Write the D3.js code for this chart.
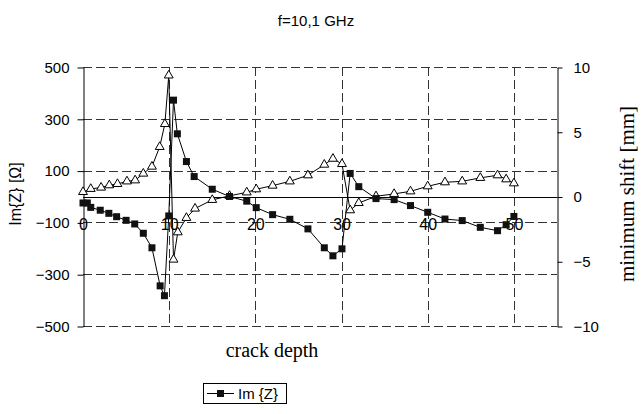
<!DOCTYPE html>
<html><head><meta charset="utf-8">
<script src="https://cdn.jsdelivr.net/npm/d3@7"></script>
<style>
body{margin:0;background:#fff;}
svg{display:block;font-family:"Liberation Sans",Arial,sans-serif;}
</style></head>
<body><svg id="c" width="644" height="414"></svg>
<script>
const title = "f=10,1 GHz";
const xLabel = "crack depth";
const yLeftLabel = "Im{Z} [Ω]";
const yRightLabel = "minimum shift [mm]";
const legendLabel = "Im {Z}";
const xTicks = [0,10,20,30,40,50];
const yLeftTicks = [500,300,100,-100,-300,-500];
const yRightTicks = [10,5,0,-5,-10];

const imX = [0,0.5,0.9,2,3,3.9,5,6,7,8,8.95,9.45,9.95,10.5,10.95,12,12.9,15,17,19,20.1,22,24,26.1,28,29,30.05,31,32,34,36.1,38,40,42,44,46.1,48.1,49.1,50];
const imY = [-25,-25,-42,-53,-65,-78,-92,-106,-142,-198,-345,-383,-75,372,242,135,77,28,0,-18,-43,-70,-88,-125,-198,-229,-202,89,38,-8,-12,-35,-61,-87,-93,-119,-132,-109,-77];
const shiftX = [0,0.9,2.1,3.05,4,5.1,6.05,7,8,8.9,9.5,9.95,10.5,11,12,13,15,17,19,20.1,22,24,26.1,28,29,30.05,31,32,34,36.1,38,40,42,44,46.1,48.1,49.1,50];
const shiftY = [0.35,0.59,0.69,0.87,0.97,1.17,1.25,1.77,2.31,3.83,5.6,9.35,-4.87,-2.76,-1.65,-0.93,-0.26,0.05,0.32,0.56,0.84,1.17,1.64,2.46,2.92,2.51,-1.06,-0.5,0.02,0.2,0.4,0.79,1.1,1.17,1.44,1.64,1.33,1.02];

const svg = d3.select("#c");
const L = 83, R = 557, T = 67, B = 326;
const x = d3.scaleLinear().domain([0,55]).range([L,R]);
const yl = d3.scaleLinear().domain([-500,500]).range([B,T]);
const yr = d3.scaleLinear().domain([-10,10]).range([B,T]);

// gridlines
const grid = svg.append("g").attr("stroke","#333").attr("stroke-width",1).attr("stroke-dasharray","9,4").attr("fill","none");
grid.selectAll("line.h").data(yLeftTicks).join("line")
  .attr("x1",L).attr("x2",R).attr("y1",d=>Math.round(yl(d))+0.5).attr("y2",d=>Math.round(yl(d))+0.5);
grid.selectAll("line.v").data(xTicks.filter(d=>d>0)).join("line")
  .attr("y1",T).attr("y2",B).attr("x1",d=>Math.round(x(d))+0.5).attr("x2",d=>Math.round(x(d))+0.5);

// zero line
svg.append("line").attr("x1",L).attr("x2",R).attr("y1",Math.round(yl(0))+0.5).attr("y2",Math.round(yl(0))+0.5)
  .attr("stroke","#000").attr("stroke-width",1);

// left axis
const ga = svg.append("g").attr("transform",`translate(${L+0.5},0.5)`)
  .call(d3.axisLeft(yl).tickValues(yLeftTicks).tickSize(6).tickSizeOuter(0).tickPadding(8).tickFormat(d3.format("d")));
ga.selectAll("text").attr("font-size",15).attr("fill","#000").attr("font-family","Liberation Sans, Arial, sans-serif");
ga.select(".domain").attr("stroke","#000");
ga.selectAll(".tick line").attr("stroke","#000");

// right axis
const gr = svg.append("g").attr("transform",`translate(${R+0.5},0.5)`)
  .call(d3.axisRight(yr).tickValues(yRightTicks).tickSize(5).tickSizeOuter(0).tickPadding(11).tickFormat(d3.format("d")));
gr.selectAll("text").attr("font-size",15).attr("fill","#000").attr("font-family","Liberation Sans, Arial, sans-serif");
gr.select(".domain").attr("stroke","#000");
gr.selectAll(".tick line").attr("stroke","#000");

// x labels
const gx = svg.append("g").attr("transform",`translate(0,219)`)
  .call(d3.axisBottom(x).tickValues(xTicks).tickSize(0).tickPadding(0).tickFormat(d3.format("d")));
gx.select(".domain").remove();
gx.selectAll("text").attr("font-size",16).attr("fill","#000").attr("font-family","Liberation Sans, Arial, sans-serif");

// series lines
const lineIm = d3.line().x((d,i)=>x(imX[i])).y(d=>yl(d));
svg.append("path").attr("d",lineIm(imY)).attr("fill","none").attr("stroke","#000").attr("stroke-width",1);
const lineSh = d3.line().x((d,i)=>x(shiftX[i])).y(d=>yr(d));
svg.append("path").attr("d",lineSh(shiftY)).attr("fill","none").attr("stroke","#000").attr("stroke-width",1);

// markers
const tri = d3.symbol().type(d3.symbolTriangle).size(34);
svg.append("g").selectAll("path").data(shiftY).join("path")
  .attr("d",tri).attr("transform",(d,i)=>`translate(${x(shiftX[i])},${yr(d)})`)
  .attr("fill","#fff").attr("stroke","#000").attr("stroke-width",1);
svg.append("g").selectAll("rect").data(imY).join("rect")
  .attr("x",(d,i)=>x(imX[i])-3.5).attr("y",d=>yl(d)-3.5).attr("width",7).attr("height",7)
  .attr("fill","#111");

// titles
svg.append("text").attr("x",316).attr("y",26).attr("text-anchor","middle").attr("font-size",15).text(title);
svg.append("text").attr("x",272).attr("y",357).attr("text-anchor","middle").attr("font-size",20)
  .attr("font-family","Liberation Serif, Times New Roman, serif").text(xLabel);
svg.append("text").attr("transform","translate(21,194) rotate(-90)").attr("text-anchor","middle").attr("font-size",16).text(yLeftLabel);
svg.append("text").attr("transform","translate(634,194) rotate(-90)").attr("text-anchor","middle").attr("font-size",21)
  .attr("font-family","Liberation Serif, Times New Roman, serif").text(yRightLabel);

// legend
const lg = svg.append("g");
lg.append("rect").attr("x",203.5).attr("y",383.5).attr("width",83).attr("height",20).attr("fill","#fff").attr("stroke","#000");
lg.append("line").attr("x1",207).attr("x2",234).attr("y1",393.5).attr("y2",393.5).attr("stroke","#000");
lg.append("rect").attr("x",217).attr("y",390).attr("width",7).attr("height",7).attr("fill","#111");
lg.append("text").attr("x",238).attr("y",399).attr("font-size",15).text(legendLabel);
</script></body></html>
